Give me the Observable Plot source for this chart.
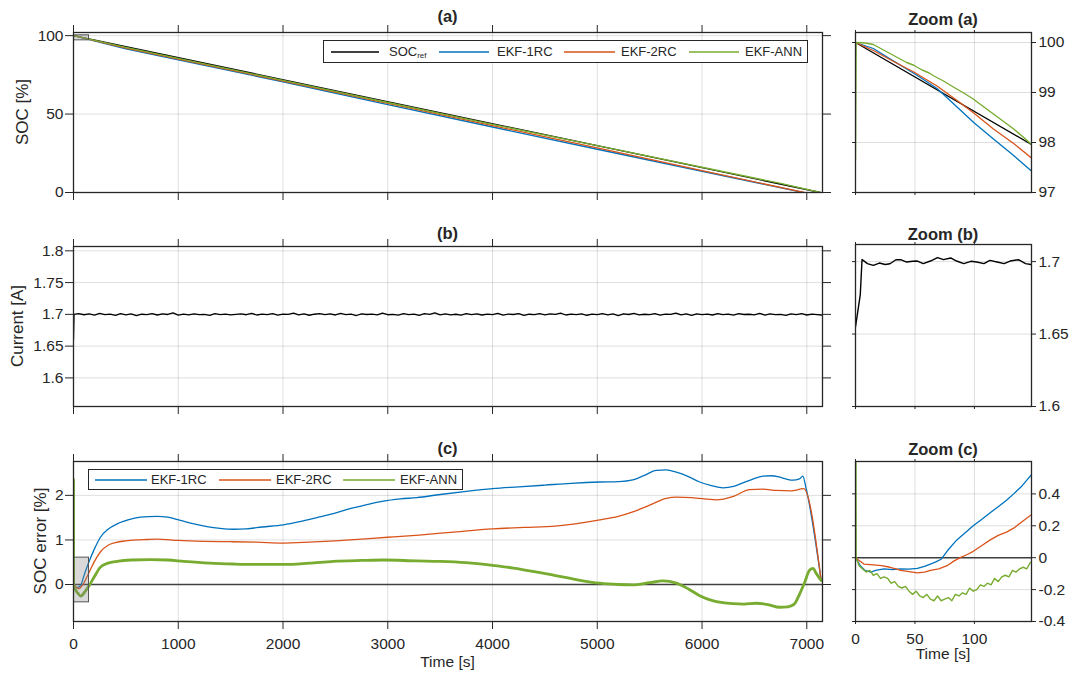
<!DOCTYPE html>
<html><head><meta charset="utf-8">
<script src="https://cdn.jsdelivr.net/npm/d3@7"></script>
<script src="https://cdn.jsdelivr.net/npm/@observablehq/plot@0.6"></script>
<style>
body{margin:0;background:#fff;}
#fig{position:relative;width:1078px;height:679px;background:#fff;font-family:"Liberation Sans",Arial,Helvetica,sans-serif;color:#262626;overflow:hidden}
.p{position:absolute}
.t{position:absolute;white-space:nowrap;transform:translate(-50%,0);font-weight:bold;font-size:16.5px;line-height:1}
.yl{position:absolute;white-space:nowrap;font-size:17px;line-height:1;transform:translate(-50%,-50%) rotate(-90deg)}
.xl{position:absolute;white-space:nowrap;font-size:15.5px;line-height:1;transform:translate(-50%,0)}
.leg{position:absolute;border:1px solid #262626;background:#fff;box-sizing:border-box}
.sw{position:absolute;left:0;top:0;overflow:visible}
.lt{position:absolute;font-size:13px;white-space:nowrap;line-height:1}
.lt sub{font-size:8px;vertical-align:-2px}
</style></head>
<body>
<div id="fig"></div>
<script>
// ---------------- DATA ----------------
const timeTicks = [0,1000,2000,3000,4000,5000,6000,7000];
const zoomTicks = [0,50,100];
const socTicks = [0,50,100];
const currentTicks = [1.6,1.65,1.7,1.75,1.8];
const errTicks = [0,1,2];
const zoomSocTicks = [97,98,99,100];
const zoomCurTicks = [1.6,1.65,1.7];
const zoomErrTicks = [-0.4,-0.2,0,0.2,0.4];

const timeDomain = [0,7150];
const zoomRange = [0,148];
const socDomain = [0,102];
const currentDomain = [1.555,1.8068];
const errDomain = [-0.83,2.76];
const zoomSocDomain = [97,100.2];
const zoomCurDomain = [1.6,1.7118];
const zoomErrDomain = [-0.4,0.603];

// (a) SOC over full test
const refT = [0,7128];
const refSOC = [100,0];
const ekf1T = [0,500,1000,2000,3000,4000,5000,6000,6965];
const ekf1SOC = [100,91.5,84.5,70.6,56.0,41.75,27.57,13.55,0];
const ekf2T = [0,500,1000,2000,3000,4000,5000,6000,6975];
const ekf2SOC = [100,92.0,84.98,71.02,56.86,42.65,28.43,13.93,0];
const annT = [0,1,500,1000,2000,3000,4000,5000,6000,6740,7128];
const annSOC = [97.65,100,92.45,85.44,71.5,57.37,43.45,29.84,16.1,5.94,0];

// (b) current
const curT = [0,5,50,100,150,200,250,300,350,400,450,500,550,600,650,700,750,800,850,900,950,1000,1050,1100,1150,1200,1250,1300,1350,1400,1450,1500,1550,1600,1650,1700,1750,1800,1850,1900,1950,2000,2050,2100,2150,2200,2250,2300,2350,2400,2450,2500,2550,2600,2650,2700,2750,2800,2850,2900,2950,3000,3050,3100,3150,3200,3250,3300,3350,3400,3450,3500,3550,3600,3650,3700,3750,3800,3850,3900,3950,4000,4050,4100,4150,4200,4250,4300,4350,4400,4450,4500,4550,4600,4650,4700,4750,4800,4850,4900,4950,5000,5050,5100,5150,5200,5250,5300,5350,5400,5450,5500,5550,5600,5650,5700,5750,5800,5850,5900,5950,6000,6050,6100,6150,6200,6250,6300,6350,6400,6450,6500,6550,6600,6650,6700,6750,6800,6850,6900,6950,7000,7050,7100,7140];
const curA = [1.660,1.700,
1.7012,1.6994,1.7008,1.6989,1.7015,1.6997,1.7004,1.6985,1.7010,1.6993,
1.7006,1.6980,1.7002,1.6996,1.7011,1.6990,1.7007,1.6998,1.7024,1.6987,
1.7003,1.6992,1.7009,1.6995,1.7001,1.6984,1.7013,1.6997,1.7005,1.6991,
1.7000,1.7008,1.6994,1.7017,1.6990,1.7003,1.6996,1.7010,1.6988,1.7004,
1.6999,1.7021,1.6993,1.7006,1.6986,1.7002,1.7012,1.6995,1.7007,1.6990,
1.7014,1.6997,1.7003,1.6982,1.7009,1.6998,1.7005,1.6992,1.7018,1.6994,
1.7001,1.6989,1.7010,1.6996,1.7004,1.6985,1.7011,1.6999,1.7023,1.6991,
1.7006,1.6993,1.7002,1.6987,1.7013,1.6997,1.7008,1.6990,1.7003,1.6995,
1.7016,1.6988,1.7005,1.6998,1.7010,1.6983,1.7002,1.6996,1.7012,1.6992,
1.7007,1.6999,1.7020,1.6990,1.7004,1.6995,1.7009,1.6986,1.7003,1.6997,
1.7011,1.6993,1.7006,1.6981,1.7008,1.6998,1.7015,1.6991,1.7002,1.6996,
1.7010,1.6988,1.7004,1.6999,1.7019,1.6992,1.7006,1.6985,1.7009,1.6997,
1.7003,1.6990,1.7012,1.6995,1.7005,1.6987,1.7010,1.6998,1.7002,1.6993,
1.7014,1.6989,1.7007,1.6996,1.7001,1.6984,1.7008,1.6995,1.7011,1.6990,
1.7004,1.6997,
1.6990];

// (c) SOC error
const err1T = [0,30,67,100,146,200,257,330,416,520,639,798,900,1020,1150,1274,1400,1528,1650,1800,2005,2160,2323,2480,2640,2800,2958,3120,3276,3500,3750,4000,4250,4500,4750,5024,5200,5340,5450,5564,5660,5754,5870,5977,6090,6200,6300,6390,6480,6581,6660,6740,6800,6867,6930,6962,6994,7137];
const err1 = [0,-0.07,-0.03,0.2,0.5,0.8,1.06,1.24,1.36,1.45,1.51,1.53,1.51,1.44,1.36,1.3,1.26,1.24,1.25,1.29,1.34,1.41,1.5,1.59,1.7,1.79,1.87,1.92,1.95,2.02,2.09,2.15,2.19,2.23,2.27,2.3,2.31,2.35,2.45,2.56,2.57,2.52,2.42,2.3,2.22,2.17,2.2,2.28,2.36,2.43,2.44,2.41,2.37,2.34,2.37,2.43,2.15,0.09];
const err2T = [0,25,52,90,148,200,260,330,400,500,600,700,800,1000,1250,1500,1750,2000,2250,2500,2750,3000,3300,3600,4000,4300,4600,5024,5200,5340,5500,5658,5754,5900,6136,6300,6454,6580,6708,6850,6969,7137];
const err2 = [0,-0.06,-0.095,0,0.27,0.52,0.74,0.88,0.94,0.98,1,1.01,1.02,0.99,0.97,0.96,0.95,0.93,0.95,0.98,1.02,1.06,1.11,1.17,1.25,1.28,1.31,1.45,1.53,1.63,1.78,1.93,1.96,1.95,1.9,1.98,2.13,2.14,2.11,2.1,2.15,0.09];
const err3T = [0,1,20,40,70,100,148,200,257,330,416,550,734,900,1052,1300,1528,1750,2005,2250,2482,2750,2958,3276,3500,3750,4000,4200,4400,4600,4800,5024,5200,5340,5500,5627,5754,5870,5977,6100,6295,6400,6518,6630,6740,6820,6880,6930,6980,7026,7060,7090,7137];
const err3 = [2.35,0,-0.12,-0.19,-0.26,-0.19,-0.03,0.18,0.39,0.48,0.52,0.55,0.56,0.55,0.52,0.48,0.46,0.45,0.45,0.48,0.52,0.54,0.55,0.53,0.52,0.49,0.43,0.37,0.29,0.2,0.11,0.03,0,-0.01,0.04,0.08,0.03,-0.1,-0.25,-0.36,-0.43,-0.44,-0.42,-0.45,-0.51,-0.5,-0.44,-0.22,0.05,0.32,0.36,0.25,0.09];

// Zoom (a)
const zRefT = [0,148];
const zRefSOC = [100,97.96];
const z1T = [0,15,32,52,68.6,85.4,99.4,116,133,148];
const z1SOC = [100,99.88,99.63,99.34,99.08,98.71,98.4,98.07,97.74,97.43];
const z2T = [0,15,32,49,68.6,85.4,99.4,116,133,148];
const z2SOC = [100,99.84,99.62,99.41,99.13,98.84,98.59,98.27,97.98,97.69];
const z3T = [0,0.5,8,15,22,29,36,43,49,56,62,66,74,83,91,99,108,116,124,133,140,148];
const z3SOC = [97.65,100,99.99,99.96,99.87,99.78,99.69,99.6,99.545,99.45,99.39,99.33,99.23,99.1,98.99,98.87,98.71,98.57,98.43,98.27,98.13,97.96];

// Zoom (b)
const zCurT = [0,4,5.5,7,10,15,20,25,29,34,38,43,48,52,57,63,69,74,80,85,91,97,102,108,113,119,125,130,137,143,148];
const zCurA = [1.655,1.677,1.7014,1.7005,1.6986,1.6974,1.699,1.698,1.6985,1.7013,1.7013,1.6997,1.7002,1.7004,1.6986,1.7004,1.7028,1.7014,1.7025,1.7004,1.6986,1.7002,1.6997,1.6986,1.7008,1.6997,1.6986,1.7004,1.7013,1.6986,1.6979];

// Zoom (c)
const ze1T = [0,4,8,13,17,24,31,38,45,52,58,63,68,72,78,85,92,99,106,113,120,127,133,140,148];
const ze1 = [0,-0.05,-0.08,-0.09,-0.08,-0.07,-0.075,-0.07,-0.072,-0.067,-0.055,-0.04,-0.025,-0.01,0.05,0.11,0.155,0.2,0.24,0.28,0.32,0.36,0.4,0.45,0.52];
const ze2T = [0,7,15,22,29,34,38,45,52,58,63,70,77,83,88,94,99,106,113,120,127,133,140,148];
const ze2 = [0,-0.04,-0.045,-0.05,-0.06,-0.07,-0.08,-0.088,-0.095,-0.09,-0.08,-0.07,-0.05,-0.02,0,0.02,0.04,0.075,0.11,0.14,0.16,0.185,0.225,0.27];
const ze3T = [0,0.5,3,6,9,12,15,18,21,24,27,30,33,36,39,42,45,48,51,54,57,60,63,66,69,72,75,78,81,84,87,90,93,96,99,102,105,108,111,114,117,120,123,126,129,132,135,138,141,144,147];
const ze3 = [2.35,0,-0.05,-0.07,-0.09,-0.08,-0.11,-0.10,-0.13,-0.12,-0.13,-0.16,-0.15,-0.18,-0.19,-0.18,-0.21,-0.23,-0.21,-0.24,-0.25,-0.23,-0.26,-0.27,-0.24,-0.27,-0.26,-0.25,-0.27,-0.23,-0.24,-0.22,-0.23,-0.19,-0.21,-0.20,-0.17,-0.18,-0.16,-0.17,-0.13,-0.15,-0.12,-0.11,-0.12,-0.08,-0.09,-0.07,-0.06,-0.07,-0.03];

// ---------------- DRAWING ----------------
const ink = "#262626";
const C0 = "#000000", C1 = "#0072BD", C2 = "#D95319", C3 = "#77AC30";
const rows = (t, v) => t.map((x, i) => ({t: x, v: v[i]}));
const fig = document.getElementById("fig");
const lbl = d => String(d);
const none = () => "";

function panel(o) {
  const marks = [
    Plot.gridX({ticks: o.xTicks, stroke: "#000", strokeOpacity: 0.13}),
    Plot.gridY({ticks: o.yTicks, stroke: "#000", strokeOpacity: 0.13}),
    ...o.marks,
    Plot.axisX({anchor: "bottom", ticks: o.xTicks, tickSize: o.xts, tickPadding: 8, tickFormat: o.xLab ? lbl : none, label: null}),
    Plot.axisX({anchor: "top", ticks: o.xTicks, tickSize: o.xts, tickFormat: none, label: null}),
    Plot.axisY({anchor: "left", ticks: o.yTicks, tickSize: o.ylts, tickPadding: 2, tickFormat: o.yLeft ? lbl : none, label: null}),
    Plot.axisY({anchor: "right", ticks: o.yTicks, tickSize: o.yrts, tickPadding: 3, tickFormat: o.yRight ? lbl : none, label: null}),
    Plot.frame({stroke: ink, strokeWidth: 1.3})
  ];
  const svg = Plot.plot({
    width: o.w, height: o.h,
    marginLeft: o.ml, marginRight: o.mr, marginTop: o.mt, marginBottom: o.mb,
    x: {domain: o.xDomain}, y: {domain: o.yDomain},
    style: {fontFamily: '"Liberation Sans", Arial, sans-serif', fontSize: "15.5px", color: ink, background: "transparent", overflow: "visible"},
    marks
  });
  const d = document.createElement("div");
  d.className = "p";
  d.style.left = o.left + "px";
  d.style.top = o.top + "px";
  d.appendChild(svg);
  fig.appendChild(d);
}
const L = (t, v, c, w, curve) => Plot.line(rows(t, v), {x: "t", y: "v", stroke: c, strokeWidth: w || 1.3, curve: curve || "linear", clip: true});
const zoomBox = (y) => Plot.rect([{x1: zoomRange[0], x2: zoomRange[1], y1: y[0], y2: y[1]}], {x1: "x1", x2: "x2", y1: "y1", y2: "y2", fill: "#808080", fillOpacity: 0.3, stroke: "#555", strokeWidth: 1, clip: true});

const mainBase = {left: 0, w: 850, ml: 73, mr: 28, xDomain: timeDomain, xTicks: timeTicks, xts: 8, ylts: 8, yrts: 8, yLeft: true};
const zoomBase = {left: 840, w: 238, ml: 15, mr: 47, xDomain: zoomRange, xTicks: zoomTicks, xts: 3, ylts: 3, yrts: 4, yRight: true};

// (a)
panel({...mainBase, top: 0, h: 215, mt: 32, mb: 23, yDomain: socDomain, yTicks: socTicks,
  marks: [L(refT, refSOC, C0), L(ekf1T, ekf1SOC, C1), L(ekf2T, ekf2SOC, C2), L(annT, annSOC, C3), zoomBox(zoomSocDomain)]});
// (b)
panel({...mainBase, top: 220, h: 200, mt: 26, mb: 14, yDomain: currentDomain, yTicks: currentTicks,
  marks: [L(curT, curA, C0, 1.3)]});
// (c)
panel({...mainBase, top: 440, h: 239, mt: 21, mb: 58, yDomain: errDomain, yTicks: errTicks, xLab: true,
  marks: [Plot.ruleY([0], {stroke: "#404040", strokeWidth: 1.6}),
    L(err1T, err1, C1, 1.3, "monotone-x"), L(err2T, err2, C2, 1.3, "monotone-x"), L(err3T, err3, C3, 2.8, "monotone-x"),
    zoomBox(zoomErrDomain)]});
// Zoom (a)
panel({...zoomBase, top: 0, h: 215, mt: 32, mb: 23, yDomain: zoomSocDomain, yTicks: zoomSocTicks,
  marks: [L(zRefT, zRefSOC, C0), L(z1T, z1SOC, C1), L(z2T, z2SOC, C2), L(z3T, z3SOC, C3, 1.4)]});
// Zoom (b)
panel({...zoomBase, top: 220, h: 200, mt: 24, mb: 14, yDomain: zoomCurDomain, yTicks: zoomCurTicks,
  marks: [L(zCurT, zCurA, C0, 1.4)]});
// Zoom (c)
panel({...zoomBase, top: 440, h: 239, mt: 21, mb: 58, yDomain: zoomErrDomain, yTicks: zoomErrTicks, xLab: true,
  marks: [Plot.ruleY([0], {stroke: "#404040", strokeWidth: 1.6}),
    L(ze1T, ze1, C1, 1.3), L(ze2T, ze2, C2, 1.3), L(ze3T, ze3, C3, 1.4)]});

// ---------------- TEXT ----------------
function addText(cls, html, left, top) {
  const e = document.createElement("div");
  e.className = cls; e.innerHTML = html;
  e.style.left = left + "px"; e.style.top = top + "px";
  fig.appendChild(e);
  return e;
}
addText("t", "(a)", 447.5, 8);
addText("t", "(b)", 447.5, 225);
addText("t", "(c)", 447.5, 440);
addText("t", "Zoom (a)", 943, 11);
addText("t", "Zoom (b)", 943, 226);
addText("t", "Zoom (c)", 943, 441);
addText("yl", "SOC [%]", 22, 112);
addText("yl", "Current [A]", 17, 326);
addText("yl", "SOC error [%]", 40, 541);
addText("xl", "Time [s]", 447.5, 654);
addText("xl", "Time [s]", 943, 645.5);

const SVGNS = "http://www.w3.org/2000/svg";
function legend(left, top, width, height, items) {
  const box = document.createElement("div");
  box.className = "leg";
  Object.assign(box.style, {left: left + "px", top: top + "px", width: width + "px", height: height + "px"});
  const sv = document.createElementNS(SVGNS, "svg");
  sv.setAttribute("class", "sw");
  sv.setAttribute("width", width);
  sv.setAttribute("height", height);
  items.forEach(it => {
    const ln = document.createElementNS(SVGNS, "line");
    const y = Math.round(height / 2) - 1;
    ln.setAttribute("x1", it.sx); ln.setAttribute("x2", it.sx + it.sw);
    ln.setAttribute("y1", y); ln.setAttribute("y2", y);
    ln.setAttribute("stroke", it.color);
    ln.setAttribute("stroke-width", "1.6");
    sv.appendChild(ln);
  });
  box.appendChild(sv);
  items.forEach(it => {
    const t = document.createElement("div");
    t.className = "lt";
    t.innerHTML = it.label;
    Object.assign(t.style, {left: it.tx + "px", top: (height / 2 - 7.5) + "px"});
    box.appendChild(t);
  });
  fig.appendChild(box);
}
const legA = ["SOC<sub>ref</sub>", "EKF-1RC", "EKF-2RC", "EKF-ANN"];
const legC = ["EKF-1RC", "EKF-2RC", "EKF-ANN"];
legend(323, 40, 485, 23, [
  {label: legA[0], color: C0, sx: 7, sw: 48, tx: 65},
  {label: legA[1], color: C1, sx: 115, sw: 50, tx: 173},
  {label: legA[2], color: C2, sx: 240, sw: 51, tx: 297},
  {label: legA[3], color: C3, sx: 365, sw: 50, tx: 421}
]);
legend(88, 469, 375, 21, [
  {label: legC[0], color: C1, sx: 6, sw: 52, tx: 62},
  {label: legC[1], color: C2, sx: 130, sw: 52, tx: 187},
  {label: legC[2], color: C3, sx: 254, sw: 52, tx: 311}
]);
</script>
</body></html>
